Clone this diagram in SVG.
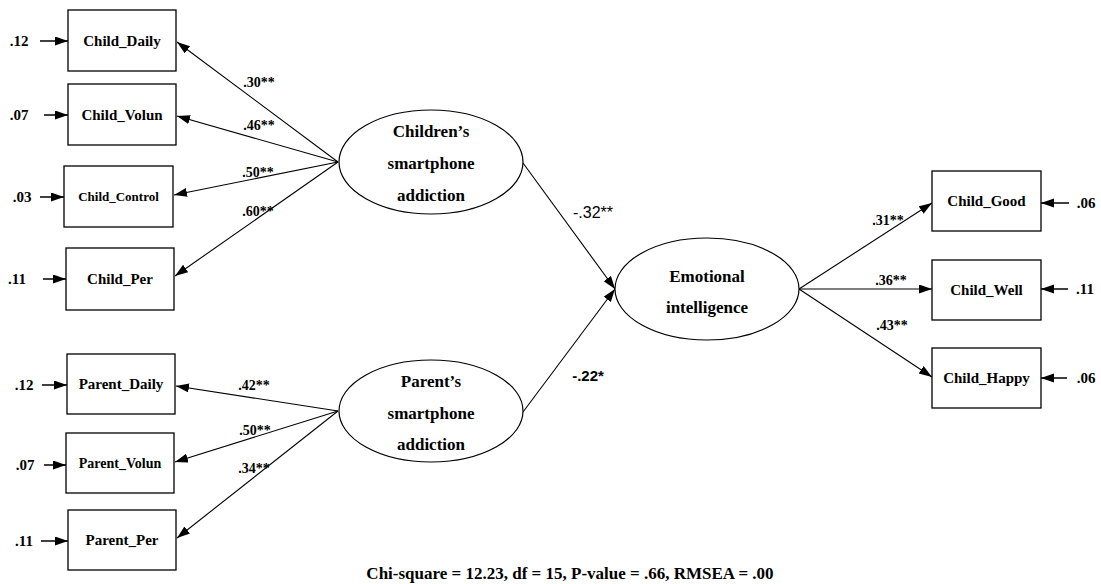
<svg xmlns="http://www.w3.org/2000/svg" width="1101" height="584" viewBox="0 0 1101 584">
<style>
.box{fill:#fff;stroke:#000;stroke-width:1.3}
.ell{fill:#fff;stroke:#000;stroke-width:1.2}
.bl{font-family:"Liberation Serif","Times New Roman",serif;font-weight:bold;font-size:15px;text-anchor:middle;fill:#000}
.el{font-family:"Liberation Serif","Times New Roman",serif;font-weight:bold;font-size:17px;text-anchor:middle;fill:#000}
.pl{font-family:"Liberation Serif","Times New Roman",serif;font-weight:bold;font-size:14px;text-anchor:middle;fill:#000}
.rl{font-family:"Liberation Serif","Times New Roman",serif;font-weight:bold;font-size:15px;text-anchor:middle;fill:#000}
.sl{font-family:"Liberation Sans",Arial,sans-serif;font-size:16px;text-anchor:middle;fill:#000}
.ft{font-family:"Liberation Serif","Times New Roman",serif;font-weight:bold;font-size:17px;text-anchor:middle;fill:#000}
.ln{stroke:#000;stroke-width:1.1;fill:none;marker-end:url(#ah)}
.rs{stroke:#000;stroke-width:1.5;fill:none;marker-end:url(#ah)}
</style>
<defs>
<marker id="ah" markerUnits="userSpaceOnUse" markerWidth="14" markerHeight="10" refX="13" refY="4.5" orient="auto">
<path d="M0,0 L13,4.5 L0,9 z" fill="#000"/>
</marker>
</defs>
<rect width="1101" height="584" fill="#fff"/>

<g id="connectors">
<line class="ln" x1="338" y1="162" x2="177" y2="42"/>
<line class="ln" x1="338" y1="162" x2="177" y2="116"/>
<line class="ln" x1="338" y1="162" x2="174" y2="195"/>
<line class="ln" x1="338" y1="162" x2="175" y2="276"/>
<line class="ln" x1="338" y1="411" x2="176" y2="386"/>
<line class="ln" x1="338" y1="411" x2="175" y2="462"/>
<line class="ln" x1="338" y1="411" x2="177" y2="538"/>
<line class="ln" x1="523" y1="163" x2="615" y2="289"/>
<line class="ln" x1="523" y1="412" x2="615" y2="289"/>
<line class="ln" x1="799" y1="289" x2="932" y2="203"/>
<line class="ln" x1="799" y1="289" x2="932" y2="289"/>
<line class="ln" x1="799" y1="289" x2="932" y2="377"/>
<line class="rs" x1="40" y1="41" x2="68" y2="41"/>
<line class="rs" x1="44" y1="115" x2="68" y2="115"/>
<line class="rs" x1="40" y1="197" x2="64" y2="197"/>
<line class="rs" x1="43" y1="279" x2="66" y2="279"/>
<line class="rs" x1="42" y1="385" x2="67" y2="385"/>
<line class="rs" x1="44" y1="465" x2="66" y2="465"/>
<line class="rs" x1="41" y1="541" x2="68" y2="541"/>
<line class="rs" x1="1069" y1="203" x2="1041" y2="203"/>
<line class="rs" x1="1068" y1="289" x2="1041" y2="289"/>
<line class="rs" x1="1067" y1="378" x2="1041" y2="378"/>
</g>

<g id="labels">
<text class="pl" x="259" y="87">.30**</text>
<text class="pl" x="259" y="130">.46**</text>
<text class="pl" x="258" y="177">.50**</text>
<text class="pl" x="258" y="216">.60**</text>
<text class="pl" x="254" y="390">.42**</text>
<text class="pl" x="255" y="435">.50**</text>
<text class="pl" x="254" y="473">.34**</text>
<text class="sl" x="593" y="218">-.32**</text>
<text class="sl" x="588" y="381" style="font-weight:bold;font-size:15px">-.22*</text>
<text class="pl" x="888" y="225">.31**</text>
<text class="pl" x="891" y="285">.36**</text>
<text class="pl" x="892" y="330">.43**</text>
<text class="rl" x="19" y="46">.12</text>
<text class="rl" x="19" y="120">.07</text>
<text class="rl" x="22" y="202">.03</text>
<text class="rl" x="17" y="284">.11</text>
<text class="rl" x="24" y="390">.12</text>
<text class="rl" x="25" y="470">.07</text>
<text class="rl" x="24" y="546">.11</text>
<text class="rl" x="1086" y="208">.06</text>
<text class="rl" x="1085" y="294">.11</text>
<text class="rl" x="1086" y="383">.06</text>
</g>

<g id="child_daily"><rect class="box" x="68" y="10" width="108" height="61"/><text class="bl" x="122" y="46">Child_Daily</text></g>
<g id="child_volun"><rect class="box" x="68" y="84" width="108" height="61"/><text class="bl" x="122" y="120">Child_Volun</text></g>
<g id="child_control"><rect class="box" x="64" y="166" width="109" height="61"/><text class="bl" x="118.5" y="201" style="font-size:13px">Child_Control</text></g>
<g id="child_per"><rect class="box" x="66" y="248" width="108" height="62"/><text class="bl" x="120" y="284">Child_Per</text></g>
<g id="parent_daily"><rect class="box" x="67" y="354" width="108" height="60"/><text class="bl" x="121" y="389">Parent_Daily</text></g>
<g id="parent_volun"><rect class="box" x="66" y="433" width="108" height="60"/><text class="bl" x="120" y="468" style="font-size:14px">Parent_Volun</text></g>
<g id="parent_per"><rect class="box" x="68" y="510" width="108" height="60"/><text class="bl" x="122" y="545">Parent_Per</text></g>
<g id="child_good"><rect class="box" x="932" y="171" width="109" height="60"/><text class="bl" x="986.5" y="206">Child_Good</text></g>
<g id="child_well"><rect class="box" x="932" y="260" width="109" height="60"/><text class="bl" x="986.5" y="295">Child_Well</text></g>
<g id="child_happy"><rect class="box" x="932" y="348" width="109" height="60"/><text class="bl" x="986.5" y="383">Child_Happy</text></g>

<g id="children_addiction"><ellipse class="ell" cx="431" cy="162" rx="92" ry="52"/>
<text class="el" x="431" y="137">Children’s</text><text class="el" x="431" y="169">smartphone</text><text class="el" x="431" y="201">addiction</text></g>
<g id="parent_addiction"><ellipse class="ell" cx="431" cy="411" rx="92" ry="51"/>
<text class="el" x="431" y="387">Parent’s</text><text class="el" x="431" y="419">smartphone</text><text class="el" x="431" y="450">addiction</text></g>
<g id="emotional_intelligence"><ellipse class="ell" cx="707" cy="289" rx="92" ry="51"/>
<text class="el" x="707" y="282">Emotional</text><text class="el" x="707" y="313">intelligence</text></g>

<text class="ft" x="570" y="579">Chi-square = 12.23, df = 15, P-value = .66, RMSEA = .00</text>
</svg>
